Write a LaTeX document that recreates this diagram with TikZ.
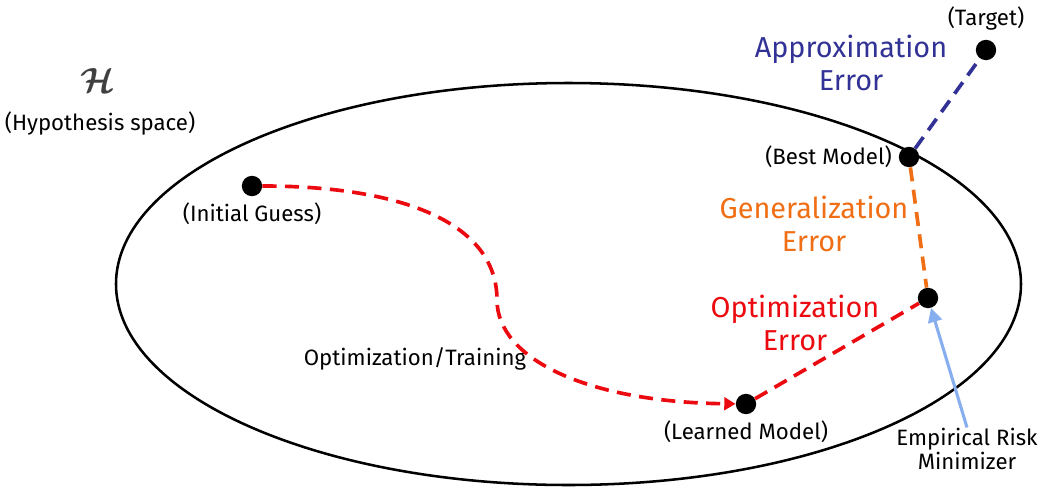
\documentclass[tikz,border=0pt]{standalone}
\usepackage{amsmath}
\usepackage{fontspec}
\setmainfont{Fira Sans}
\usetikzlibrary{arrows.meta}
\definecolor{apprx}{RGB}{50,50,150}
\definecolor{gener}{RGB}{240,110,20}
\definecolor{optim}{RGB}{235,10,15}
\definecolor{erm}{RGB}{135,175,240}
\tikzset{
  pt/.style={circle,fill=black,inner sep=0pt,minimum size=14.5pt},
  txt/.style={font=\fontsize{15.8}{17.7}\selectfont,inner sep=0pt},
  big/.style={font=\fontsize{20.5}{23.4}\selectfont,align=center,inner sep=0pt},
  dsh/.style={line width=2.6pt,dash pattern=on 10pt off 6pt}
}
\begin{document}
\begin{tikzpicture}[x=0.025cm,y=-0.025cm]
      \useasboundingbox (0,0) rectangle (1040,488);
      \draw[line width=1.8pt] (568.5,284) ellipse (452.5 and 201);

      \node[font=\fontsize{30}{30}\selectfont] (H) at (98,80) {\color[RGB]{64,64,64}$\boldsymbol{\mathcal{H}}$};
      \node[txt] (Hs) at (100,123) {(Hypothesis space)};

      \node[pt] (init) at (252,186) {};
      \node[pt] (learned) at (746,404) {};
      \node[pt] (erm) at (928,298) {};
      \node[pt] (best) at (909,157) {};
      \node[pt] (target) at (986,50) {};

      \node[txt] at (252,214) {(Initial Guess)};
      \node[txt] at (746,432) {(Learned Model)};
      \node[txt,anchor=east] at (892,157) {(Best Model)};
      \node[txt] at (986,18) {(Target)};
      \node[txt] at (415,359) {Optimization/Training};
      \node[txt,align=center] (ermtxt) at (967,449) {Empirical Risk\\Minimizer};

      \node[big,text=apprx] at (851,63) {Approximation\\Error};
      \node[big,text=gener] at (814,224) {Generalization\\Error};
      \node[big,text=optim] at (795,323) {Optimization\\Error};

      \draw[dsh,apprx] (best) -- (target);
      \draw[dsh,gener] (best) -- (erm);
      \draw[dsh,optim] (learned) -- (erm);
      \draw[dsh,optim,-{Triangle[length=8pt,width=9pt]}] (init)
        .. controls (400,186) and (497,222) .. (497,300)
        .. controls (497,358) and (585,402) .. (learned);
      \draw[line width=2.2pt,erm,-{Triangle[length=10pt,width=10pt]}] (ermtxt.north) -- (erm);
    \end{tikzpicture}
\end{document}
